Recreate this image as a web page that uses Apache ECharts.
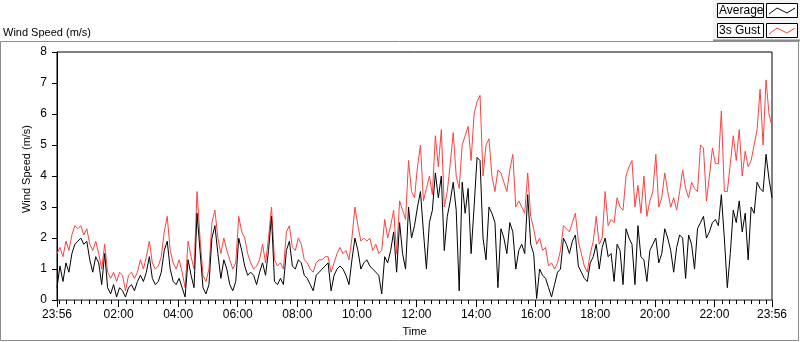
<!DOCTYPE html>
<html lang="en">
<head>
    <meta charset="UTF-8">
    <title>Wind Speed</title>
    <style>
        html, body { margin: 0; padding: 0; background: #fff; }
        #main { width: 800px; height: 342px; }
    </style>
</head>
<body>
<div id="main"></div>

<script src="https://cdn.jsdelivr.net/npm/echarts@6/dist/echarts.min.js"></script>
<script>
    // one sample every 6 minutes, starting 23:56
    var timeStep = 6;

    var gust = [
        1.5, 1.7, 1.4, 1.9, 1.6, 2.1, 2.4, 2.3, 2.4, 2.1,
        2.3, 1.8, 1.6, 1.9, 1.5, 1.0, 1.8, 0.9, 0.7, 0.9,
        0.6, 0.9, 0.8, 0.3, 0.8, 0.9, 0.7, 0.9, 1.3, 1.0,
        1.4, 1.9, 1.2, 1.0, 1.1, 1.4, 2.2, 2.7, 1.6, 1.2,
        1.0, 1.3, 0.9, 0.4, 1.9, 1.4, 1.0, 3.5, 2.0, 0.8,
        0.6, 1.0, 2.5, 2.9, 2.0, 1.5, 2.0, 1.6, 1.3, 1.0,
        1.2, 2.7, 2.2, 2.0, 1.5, 1.2, 1.0, 1.1, 1.3, 1.8,
        1.2, 2.0, 3.0, 1.3, 1.1, 1.2, 1.0, 2.2, 2.4, 1.7,
        1.6, 2.0, 1.8, 1.3, 1.2, 1.0, 0.9, 1.2, 1.3, 1.3,
        1.4, 1.4, 0.9, 1.2, 1.5, 1.7, 1.5, 1.6, 1.3, 2.0,
        3.0, 2.4, 1.9, 2.0, 1.9, 2.0, 1.6, 1.8, 1.5, 1.6,
        2.6, 2.0, 2.4, 2.9, 1.5, 3.2, 2.9, 2.6, 4.5, 3.5,
        3.3, 4.3, 5.0, 3.2, 3.6, 4.0, 3.4, 5.3, 4.3, 5.5,
        3.0, 3.5, 4.4, 5.4, 4.0, 3.6, 5.0, 5.3, 5.6, 4.5,
        6.0, 6.4, 6.6, 4.0, 5.0, 5.2, 4.0, 3.5, 4.2, 4.1,
        3.8, 3.5, 4.2, 4.7, 3.0, 3.2, 3.0, 2.8, 4.1, 2.7,
        2.3, 1.8, 2.0, 1.6, 1.7, 1.1, 1.2, 1.0, 1.2, 1.6,
        2.4, 2.3, 2.2, 2.5, 2.8, 1.9, 1.5, 1.1, 0.9, 1.5,
        1.9, 2.7, 1.8, 2.0, 3.5, 2.4, 2.6, 2.5, 3.3, 3.0,
        2.9, 4.0, 4.3, 4.5, 3.0, 3.7, 2.8, 4.0, 2.7, 3.2,
        3.5, 4.7, 3.0, 3.3, 4.1, 3.5, 3.0, 3.3, 2.9, 3.5,
        4.2, 3.6, 3.3, 3.8, 3.6, 3.5, 5.0, 4.9, 3.2, 4.0,
        4.9, 4.4, 4.4, 6.1, 3.5, 3.5, 4.4, 5.3, 4.5, 5.5,
        4.0, 4.8, 4.3, 4.5, 5.0, 5.5, 6.8, 5.0, 7.1, 6.0,
        5.6
    ];

    var average = [
        0.4, 1.1, 0.6, 1.2, 0.9, 1.5, 1.8, 1.9, 2.0, 1.8,
        1.9, 1.3, 0.9, 1.4, 1.2, 0.5, 1.5, 0.4, 0.2, 0.5,
        0.1, 0.4, 0.3, 0.1, 0.4, 0.5, 0.3, 0.6, 0.8, 0.6,
        0.9, 1.4, 0.7, 0.5, 0.6, 0.9, 1.6, 1.9, 1.0, 0.6,
        0.5, 0.7, 0.4, 0.1, 1.3, 0.8, 0.4, 2.8, 1.6, 0.4,
        0.2, 0.5, 2.0, 2.4, 1.5, 0.7, 1.3, 1.0, 0.5, 0.3,
        0.6, 2.0, 1.6, 1.1, 0.8, 0.9, 0.8, 0.5, 0.9, 1.2,
        0.8, 1.6, 2.7, 0.6, 0.5, 0.7, 0.5, 1.6, 1.9, 1.1,
        1.0, 1.3, 1.2, 0.8, 0.7, 0.5, 0.3, 0.8, 0.9, 1.0,
        1.1, 1.2, 0.3, 0.8, 1.0, 1.1, 1.0, 0.8, 0.5, 1.3,
        2.0, 1.6, 1.0, 1.2, 1.3, 1.1, 1.0, 0.9, 0.8, 0.2,
        1.4, 1.2, 1.6, 2.2, 0.9, 2.5, 1.5, 1.0, 3.0, 2.0,
        2.4, 3.0, 3.5, 2.2, 1.0, 2.5, 2.9, 4.1, 3.3, 4.0,
        1.6, 2.7, 3.2, 3.8, 2.9, 0.3, 3.8, 2.8, 3.6, 1.5,
        3.0, 4.6, 4.5, 2.0, 1.3, 3.0, 2.8, 2.5, 0.4, 2.3,
        2.0, 1.5, 2.5, 2.2, 1.0, 1.6, 1.8, 1.5, 3.4, 1.8,
        1.5, 0.05, 1.0, 0.8, 0.7, 0.4, 0.1, 0.5, 0.9, 1.0,
        2.0, 1.8, 1.5, 1.9, 2.1, 1.1, 0.9, 0.7, 0.6, 1.2,
        1.4, 1.8, 1.0, 1.7, 2.0, 1.4, 1.5, 0.6, 1.8, 1.6,
        0.5, 2.3, 2.0, 1.8, 0.5, 2.4, 1.4, 1.3, 0.6, 1.6,
        1.8, 2.0, 1.2, 1.5, 2.3, 2.0, 1.6, 0.9, 1.7, 2.1,
        2.0, 0.7, 2.1, 1.8, 1.0, 2.3, 2.5, 2.7, 2.0, 2.2,
        2.5, 2.6, 2.4, 3.4, 2.0, 0.4, 1.5, 2.9, 2.5, 3.2,
        2.2, 2.8, 1.3, 3.0, 2.8, 3.8, 3.6, 3.5, 4.7, 3.9,
        3.3
    ];

    // minutes after 23:56 and the label shown there
    var tickPositions = [0, 124, 244, 364, 484, 604, 724, 844, 964, 1084, 1204, 1324, 1440];
    var tickLabels = ['23:56', '02:00', '04:00', '06:00', '08:00', '10:00', '12:00',
        '14:00', '16:00', '18:00', '20:00', '22:00', '23:56'];

    var gustData = gust.map(function (v, i) { return [i * timeStep, v]; });
    var avgData = average.map(function (v, i) { return [i * timeStep, v]; });

    // small ticks every quarter hour from 00:00
    var minorTicks = [0];
    for (var t = 4; t < 1440; t += 15) minorTicks.push(t);

    var font = 'Liberation Sans, Arial, sans-serif';

    var myChart = echarts.init(document.getElementById('main'));
    var option = {
        animation: false,
        grid: {
            left: 57, top: 52, right: 28, bottom: 40,
            show: true, borderColor: '#000', borderWidth: 1
        },
        xAxis: [{
            type: 'value', min: 0, max: 1440,
            name: 'Time', nameLocation: 'middle', nameGap: 23,
            nameTextStyle: {color: '#000', fontSize: 11, fontFamily: font},
            splitLine: {show: false},
            axisLine: {lineStyle: {color: '#808080'}},
            axisTick: {customValues: tickPositions, length: 7, lineStyle: {color: '#000'}},
            axisLabel: {
                customValues: tickPositions, margin: 9,
                color: '#000', fontSize: 12, fontFamily: font,
                formatter: function (v) { return tickLabels[tickPositions.indexOf(v)]; }
            }
        }, {
            type: 'value', min: 0, max: 1440, position: 'bottom',
            splitLine: {show: false},
            axisLine: {show: false},
            axisTick: {customValues: minorTicks, length: 4, lineStyle: {color: '#000'}},
            axisLabel: {show: false}
        }],
        yAxis: {
            type: 'value', min: 0, max: 8, interval: 1,
            splitLine: {show: false},
            axisLine: {show: true, lineStyle: {color: '#000'}},
            axisTick: {show: true, length: 5, lineStyle: {color: '#000'}},
            axisLabel: {margin: 10, color: '#000', fontSize: 12, fontFamily: font}
        },
        series: [{
            name: '3s Gust', type: 'line', data: gustData,
            showSymbol: false, symbol: 'none',
            lineStyle: {color: '#ff4040', width: 1}
        }, {
            name: 'Average', type: 'line', data: avgData,
            showSymbol: false, symbol: 'none',
            lineStyle: {color: '#000', width: 1}
        }],
        graphic: [
            {type: 'rect', shape: {x: 0.5, y: 41.5, width: 798, height: 299},
                style: {fill: null, stroke: '#8c8c8c', lineWidth: 1}, silent: true},
            {type: 'rect', shape: {x: 713, y: 0, width: 87, height: 41},
                style: {fill: '#f2f2f2', stroke: null}, silent: true},
            {type: 'line', shape: {x1: 713, y1: 40.5, x2: 800, y2: 40.5},
                style: {stroke: '#8c8c8c', lineWidth: 2}, silent: true},
            {type: 'text', left: 3, top: 27,
                style: {text: 'Wind Speed (m/s)', fill: '#000', font: '11px ' + font}},
            {type: 'text', x: 27, y: 169, rotation: Math.PI / 2,
                style: {text: 'Wind Speed (m/s)', fill: '#000', font: '11px ' + font,
                    align: 'center', verticalAlign: 'middle'}},
            // legend: Average
            {type: 'rect', shape: {x: 717.5, y: 3.5, width: 46, height: 14},
                style: {fill: '#fff', stroke: '#000'}},
            {type: 'text', x: 719, y: 11,
                style: {text: 'Average', fill: '#000', font: '12px ' + font, verticalAlign: 'middle'}},
            {type: 'rect', shape: {x: 766.5, y: 3.5, width: 31, height: 14},
                style: {fill: '#fff', stroke: '#000'}},
            {type: 'polyline', shape: {points: [[769, 14], [777, 8], [787, 13], [795, 8]]},
                style: {stroke: '#000', lineWidth: 1, fill: null}},
            // legend: 3s Gust
            {type: 'rect', shape: {x: 717.5, y: 23.5, width: 46, height: 14},
                style: {fill: '#fff', stroke: '#000'}},
            {type: 'text', x: 719, y: 31,
                style: {text: '3s Gust', fill: '#000', font: '12px ' + font, verticalAlign: 'middle'}},
            {type: 'rect', shape: {x: 766.5, y: 23.5, width: 31, height: 14},
                style: {fill: '#fff', stroke: '#000'}},
            {type: 'polyline', shape: {points: [[769, 34], [777, 28], [787, 33], [795, 28]]},
                style: {stroke: '#ff4040', lineWidth: 1, fill: null}}
        ]
    };
    myChart.setOption(option);
</script>
</body>
</html>
